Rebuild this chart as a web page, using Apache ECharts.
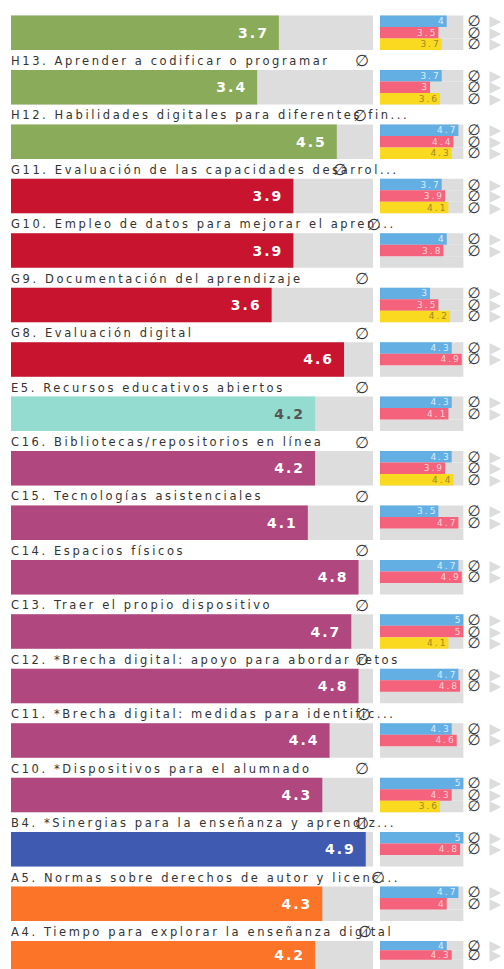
<!DOCTYPE html>
<html>
<head>
<meta charset="utf-8">
<script src="https://cdn.jsdelivr.net/npm/echarts@6/dist/echarts.min.js"></script>
<style>
html, body { margin: 0; padding: 0; background: #fff; }
#main { width: 504px; height: 969px; }
#main text { letter-spacing: 2px; }
#main text[style*="11.5px"] { letter-spacing: 2.6px; }
</style>
</head>
<body>
<div id="main"></div>
<script>
// bloques de la lista (el primero aparece sin título)
var titulos = [
    '',
    'H13. Aprender a codificar o programar',
    'H12. Habilidades digitales para diferentes fin...',
    'G11. Evaluación de las capacidades desarrol...',
    'G10. Empleo de datos para mejorar el apren...',
    'G9. Documentación del aprendizaje',
    'G8. Evaluación digital',
    'E5. Recursos educativos abiertos',
    'C16. Bibliotecas/repositorios en línea',
    'C15. Tecnologías asistenciales',
    'C14. Espacios físicos',
    'C13. Traer el propio dispositivo',
    'C12. *Brecha digital: apoyo para abordar retos',
    'C11. *Brecha digital: medidas para identific...',
    'C10. *Dispositivos para el alumnado',
    'B4. *Sinergias para la enseñanza y aprendiz...',
    'A5. Normas sobre derechos de autor y licenc...',
    'A4. Tiempo para explorar la enseñanza digital'
];
var areas = ['H','H','H','G','G','G','G','E','C','C','C','C','C','C','C','B','A','A'];

// media global de cada bloque
var media = [3.7, 3.4, 4.5, 3.9, 3.9, 3.6, 4.6, 4.2, 4.2, 4.1, 4.8, 4.7, 4.8, 4.4, 4.3, 4.9, 4.3, 4.2];

// por grupo
var grupos = ['Equipo directivo', 'Profesorado', 'Alumnado'];
var directivos  = [4, 3.7, 4.7, 3.7, 4, 3, 4.3, 4.3, 4.3, 3.5, 4.7, 5, 4.7, 4.3, 5, 5, 4.7, 4];
var profesorado = [3.5, 3, 4.4, 3.9, 3.8, 3.5, 4.9, 4.1, 3.9, 4.7, 4.9, 5, 4.8, 4.6, 4.3, 4.8, 4, 4.3];
var alumnado    = [3.7, 3.6, 4.3, 4.1, null, 4.2, null, null, 4.4, null, null, 4.1, null, null, 3.6, null, null, null];

// colores
var colorArea = { H: '#8aac5a', G: '#c8142f', E: '#93dccf', C: '#b1477f', B: '#3f5bb1', A: '#fb7427' };
var colorGrupo = ['#63afe4', '#f5627b', '#fad921'];
var colorEtiq = ['#d9edfb', '#fdd3da', '#9d8a25'];
var fuente = 'DejaVu Sans';

// posicion horizontal del icono en cada titulo
var iconoX = [353, 352, 350, 330, 364, 352, 352, 352, 352, 352, 352, 352, 352, 354, 352, 352, 368, 355];

var paso = 54.44, arriba = 15.5, alto = 34.5;

var myChart = echarts.init(document.getElementById('main'), null, { renderer: 'svg' });

var grid = [], xAxis = [], yAxis = [], series = [], title = [];

function etiquetasDerecha(vals) {
    return function (value, idx) {
        return vals[idx] == null ? '' : '{o|∅}{t|▶}';
    };
}

for (var i = 0; i < titulos.length; i++) {
    var y0 = arriba + paso * i;
    var vals = [directivos[i], profesorado[i], alumnado[i]];

    grid.push({ left: 11, width: 362, top: y0, height: alto });
    grid.push({ left: 380, width: 83.5, top: y0, height: alto });

    xAxis.push({ gridIndex: 2 * i, type: 'value', min: 0, max: 5, show: false });
    xAxis.push({ gridIndex: 2 * i + 1, type: 'value', min: 0, max: 5, show: false });

    yAxis.push({ gridIndex: 2 * i, type: 'category', data: [titulos[i] || ' '], show: false });
    yAxis.push({
        gridIndex: 2 * i + 1, type: 'category', data: grupos, inverse: true, position: 'right',
        axisLine: { show: false }, axisTick: { show: false },
        axisLabel: {
            interval: 0, margin: 4,
            formatter: etiquetasDerecha(vals),
            rich: {
                o: { fontSize: 15, lineHeight: 11, color: '#333', fontFamily: fuente },
                t: { fontSize: 15, lineHeight: 11, color: '#dcdcdc', fontFamily: fuente, padding: [0, 0, 0, 9] }
            }
        }
    });

    series.push({
        type: 'bar', xAxisIndex: 2 * i, yAxisIndex: 2 * i,
        barWidth: '100%', silent: true,
        showBackground: true, backgroundStyle: { color: '#dddddd' },
        data: [{ value: media[i], itemStyle: { color: colorArea[areas[i]] } }],
        label: {
            show: true, position: 'insideRight', distance: 10,
            fontSize: 14, fontWeight: 'bold', fontFamily: fuente,
            color: areas[i] == 'E' ? '#555' : '#fff'
        }
    });

    series.push({
        type: 'bar', xAxisIndex: 2 * i + 1, yAxisIndex: 2 * i + 1,
        barWidth: '100%', silent: true,
        showBackground: true, backgroundStyle: { color: '#dddddd' },
        data: vals.map(function (v, k) {
            return {
                value: v,
                itemStyle: { color: colorGrupo[k] },
                label: { color: colorEtiq[k] }
            };
        }),
        label: {
            show: true, position: 'insideRight', distance: 1,
            fontSize: 9, fontFamily: fuente
        }
    });

    if (titulos[i]) {
        title.push({
            text: titulos[i], left: 11, top: y0 - 15, padding: 0,
            textStyle: { fontSize: 11.5, fontWeight: 'normal', color: '#333', fontFamily: fuente }
        });
        title.push({
            text: '∅', left: iconoX[i], top: y0 - 14.5, padding: [0, 3],
            backgroundColor: '#fff',
            textStyle: { fontSize: 16, lineHeight: 11, fontWeight: 'normal', color: '#333', fontFamily: fuente }
        });
    }
}

var option = {
    animation: false,
    backgroundColor: '#fff',
    title: title,
    grid: grid,
    xAxis: xAxis,
    yAxis: yAxis,
    series: series
};

myChart.setOption(option);
</script>
</body>
</html>
